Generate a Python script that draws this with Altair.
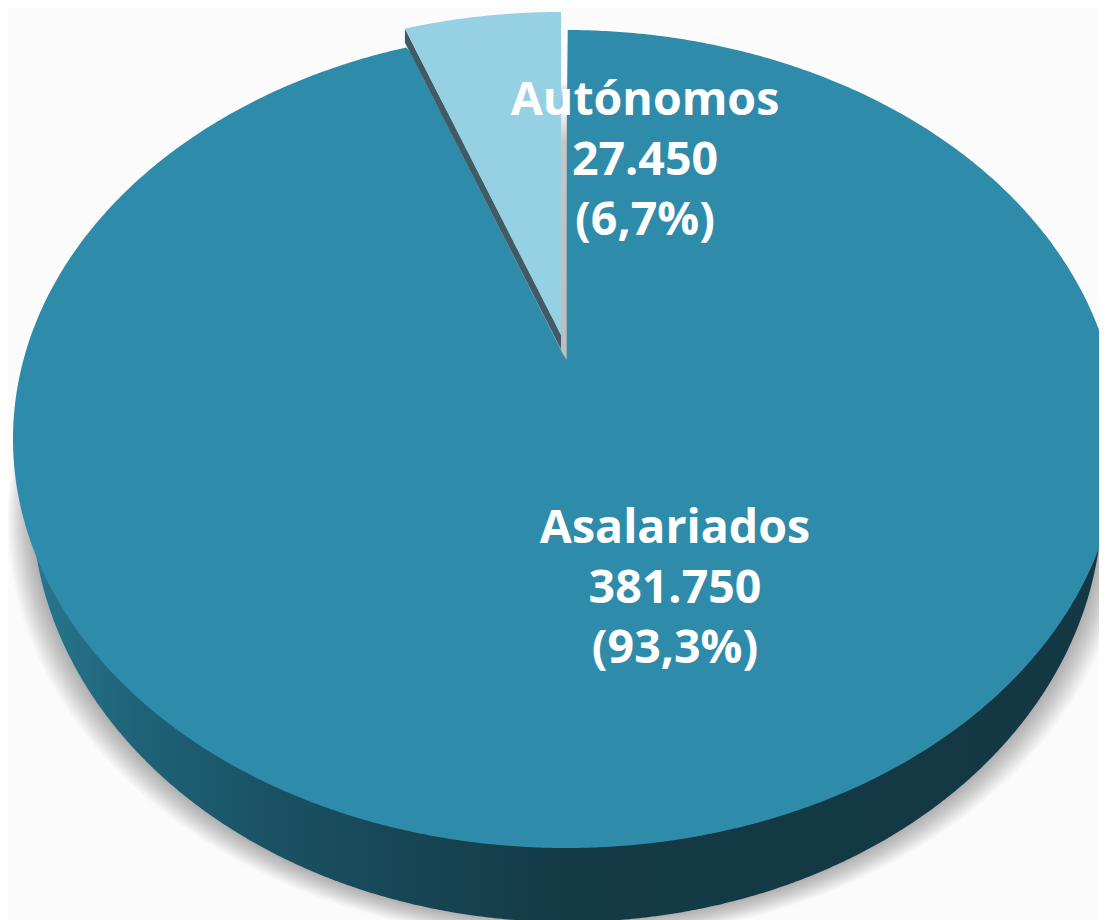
import numpy as np
import pandas as pd
import altair as alt

# ---- data
categories = ["Asalariados", "Autónomos"]
values = [381750, 27450]
value_labels = ["381.750", "27.450"]
share_labels = ["(93,3%)", "(6,7%)"]

# ---- layout of the 3-D pie (page pixels -> pie units)
W, H = 1091, 912
OX, OY = 8, 8
CX, CY, RX, RY = 566.0, 439.0, 553.0, 409.0
def U(px): return (px - CX) / RX
def V(py): return (CY - py) / RY
X_SCALE = alt.Scale(domain=[U(OX), U(OX + W)], nice=False, zero=False)
Y_SCALE = alt.Scale(domain=[V(OY + H), V(OY)], nice=False, zero=False)
PERSPECTIVE = 0.712
share = values[1] / sum(values)
edge_u = -np.sin(2 * np.pi * share) * PERSPECTIVE
APEX_U, APEX_V = U(566), V(360)

phi = np.linspace(0, np.pi, 500)
def ell_x(cx, rx): return cx - rx * np.cos(phi)
def ell_half(ry): return ry * np.sin(phi)

def area(df, color, **mark):
    return alt.Chart(df).mark_area(clip=True, color=color, **mark).encode(
        x=alt.X("x:Q", scale=X_SCALE, axis=None),
        y=alt.Y("y:Q", scale=Y_SCALE, axis=None),
        y2="y2:Q",
    )

layers = []

# soft drop shadow beneath the side wall
LOW_CX, LOW_CV, LOW_RX, LOW_RY = U(567), V(502), 535 / RX, 420 / RY
for k in range(1, 17):
    rx = LOW_RX + k * 1.5 / RX
    cv = LOW_CV - k * 1.2 / RY
    xs = ell_x(LOW_CX, rx)
    h = ell_half(LOW_RY)
    layers.append(area(pd.DataFrame({"x": xs, "y": cv - h, "y2": cv + h}), "#000000", opacity=0.021))

# side wall with horizontal shading
xs = ell_x(LOW_CX, LOW_RX)
h = ell_half(LOW_RY)
side = pd.DataFrame({"x": xs, "y": LOW_CV - h, "y2": LOW_CV + 0 * h})
wall = alt.Gradient(
    gradient="linear", x1=0, x2=1, y1=0, y2=0,
    stops=[
        alt.GradientStop(color="#27778f", offset=0.0),
        alt.GradientStop(color="#1f6277", offset=0.1),
        alt.GradientStop(color="#1a5264", offset=0.22),
        alt.GradientStop(color="#174655", offset=0.35),
        alt.GradientStop(color="#143a46", offset=0.5),
        alt.GradientStop(color="#133843", offset=1.0),
    ],
)
layers.append(area(side, wall))

# main slice: ellipse with the notch of the pulled-out slice
xs = ell_x(0.0, 1.0)
rim = np.sqrt(np.clip(1 - xs ** 2, 0, 1))
top = rim.copy()
notch = (xs > edge_u) & (xs < APEX_U)
NOTCH_LEFT = V(42)
top[notch] = np.minimum(rim[notch], NOTCH_LEFT + (APEX_V - NOTCH_LEFT) * (xs[notch] - edge_u) / (APEX_U - edge_u))
main = pd.DataFrame({"x": xs, "y": -rim, "y2": top})
layers.append(area(main, "#2e8caa"))

# pale strip at the slice's inner wall
strip = alt.Gradient(
    gradient="linear", x1=0, x2=0, y1=0, y2=1,
    stops=[alt.GradientStop(color="#f4f4f4", offset=0.0),
           alt.GradientStop(color="#c6c6c6", offset=0.12),
           alt.GradientStop(color="#bdbdbd", offset=1.0)],
)
layers.append(area(pd.DataFrame({"x": [U(561), U(566.7)], "y": [V(350), V(360)], "y2": [V(112), V(112)]}), strip))

# pulled-out slice: dark edge + pale face
DX, DY = -5 / RX, 18 / RY
TIP_U, TIP_V = U(561), V(335)
xw = np.linspace(edge_u, TIP_U, 200)
wedge_top = np.sqrt(np.clip(1 - (xw - DX) ** 2, 0, 1)) + DY
left_v = wedge_top[0]
t = (xw - xw[0]) / (xw[-1] - xw[0])
wedge_low = left_v + (TIP_V - left_v) * t
dark_low = (left_v - 14 / RY) + ((TIP_V - 14 / RY) - (left_v - 14 / RY)) * t
layers.append(area(pd.DataFrame({"x": xw, "y": dark_low, "y2": wedge_low}), "#3f5b66"))
layers.append(area(pd.DataFrame({"x": xw, "y": wedge_low, "y2": wedge_top}), "#96d0e3"))

# labels
label_rows = []
anchors = {"Asalariados": (675, 543), "Autónomos": (645, 115)}
for c, v, s in zip(categories, value_labels, share_labels):
    px, py = anchors[c]
    for i, line in enumerate([c, v, s]):
        label_rows.append({"t": line, "x": U(px), "y": V(py + i * 60)})
labels = alt.Chart(pd.DataFrame(label_rows)).mark_text(
    font="Open Sans", fontWeight="bold", fontSize=46.5, color="#ffffff",
    align="center", baseline="alphabetic",
).encode(
    x=alt.X("x:Q", scale=X_SCALE, axis=None),
    y=alt.Y("y:Q", scale=Y_SCALE, axis=None),
    text="t:N",
)
layers.append(labels)

chart = alt.layer(*layers).properties(
    width=W, height=H, background="#fbfbfb", padding=0,
    autosize=alt.AutoSizeParams(type="none"),
).configure_view(stroke=None)

chart.save("out.html", embed_options={"renderer": "svg", "actions": False})
